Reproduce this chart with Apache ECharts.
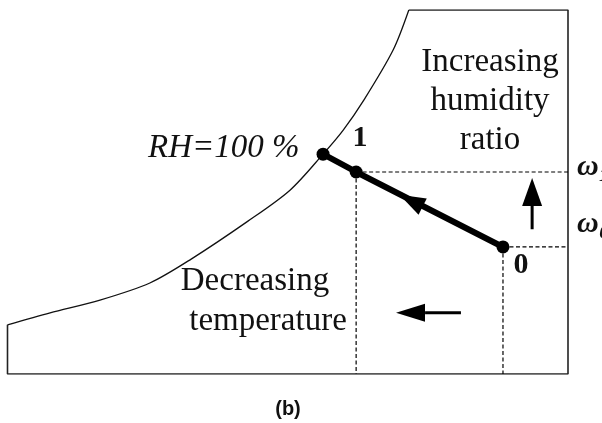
<!DOCTYPE html>
<html>
<head>
<meta charset="utf-8">
<script src="https://cdn.jsdelivr.net/npm/echarts@6/dist/echarts.min.js"></script>
<style>
  html, body { margin: 0; padding: 0; background: #fff; }
  #chart { width: 602px; height: 423px; }
</style>
</head>
<body>
<div id="chart"></div>
<script>
// saturation curve (RH = 100 %), schematic units: temperature 0..100, humidity ratio 0..100
let satT = [0, 7.6, 16.5, 25.4, 32.7, 42.9, 50.4, 56.3, 59.9, 63.6, 68.8, 71.6];
let satW = [13.5, 16.8, 20.3, 25.0, 31.5, 42.0, 50.5, 60.4, 67.0, 75.3, 89.0, 100];

// chart frame
let frameT = [71.6, 100, 100, 0, 0];
let frameW = [100, 100, 0, 0, 13.5];

// process states: saturation point, state 1, state 0
let stateNames = ['RH=100 %', '1', '0'];
let stateT = [56.3, 62.2, 88.4];
let stateW = [60.4, 55.5, 34.9];

// arrows
let upArrowT = 93.6, upArrowW = [39.8, 46.2, 50.0];
let leftArrowW = 16.8, leftArrowT = [80.9, 74.5, 71.9];
let midArrow = [72.0, 47.6];

let chart = echarts.init(document.getElementById('chart'));

let pairs = (xs, ys) => xs.map((x, i) => [x, ys[i]]);

let dashed = function(a, b) {
  return {
    type: 'line',
    data: [a, b],
    symbol: 'none',
    silent: true,
    lineStyle: {color: '#000', width: 1.2, type: [4, 2.5]}
  };
};

let serif = 'Liberation Serif, Times New Roman, serif';
let text = function(str, x, y, opts) {
  return {
    type: 'text',
    x: x,
    y: y,
    style: Object.assign({
      text: str,
      fill: '#111',
      font: '33px ' + serif,
      textAlign: 'center',
      textVerticalAlign: 'bottom'
    }, opts || {})
  };
};

chart.setOption({
  animation: false,
  grid: {left: 7.5, right: 34, top: 10, bottom: 49},
  xAxis: {type: 'value', min: 0, max: 100, show: false},
  yAxis: {type: 'value', min: 0, max: 100, show: false},
  series: [
    {
      type: 'line',
      data: pairs(satT, satW),
      smooth: 0.3,
      symbol: 'none',
      lineStyle: {color: '#111', width: 1.3}
    },
    {
      type: 'line',
      data: pairs(frameT, frameW),
      symbol: 'none',
      lineStyle: {color: '#222', width: 1.6}
    },
    dashed([stateT[1], stateW[1]], [100, stateW[1]]),
    dashed([stateT[1], stateW[1]], [stateT[1], 0]),
    dashed([stateT[2], stateW[2]], [100, stateW[2]]),
    dashed([stateT[2], stateW[2]], [stateT[2], 0]),
    {
      type: 'line',
      data: pairs(stateT, stateW),
      symbol: 'circle',
      symbolSize: 13,
      itemStyle: {color: '#000'},
      lineStyle: {color: '#000', width: 6}
    },
    // arrow shafts
    {
      type: 'line',
      data: [[upArrowT, upArrowW[0]], [upArrowT, upArrowW[1]]],
      symbol: 'none',
      lineStyle: {color: '#000', width: 3}
    },
    {
      type: 'line',
      data: [[leftArrowT[0], leftArrowW], [leftArrowT[1], leftArrowW]],
      symbol: 'none',
      lineStyle: {color: '#000', width: 3}
    },
    // arrow heads
    {
      type: 'scatter',
      symbol: 'triangle',
      itemStyle: {color: '#000', opacity: 1},
      data: [
        {value: [upArrowT, upArrowW[2]], symbolSize: [20, 28], symbolRotate: 0},
        {value: [leftArrowT[2], leftArrowW], symbolSize: [18, 29], symbolRotate: 90},
        {value: midArrow, symbolSize: [18, 26], symbolRotate: 63}
      ]
    }
  ],
  graphic: [
    text('Increasing', 490, 79),
    text('humidity', 490, 118),
    text('ratio', 490, 157),
    text('Decreasing', 255, 298),
    text('temperature', 268, 338),
    text(stateNames[0], 148, 165, {font: 'italic 33px ' + serif, textAlign: 'left'}),
    text(stateNames[1], 360, 153, {font: 'bold 30px ' + serif}),
    text(stateNames[2], 521, 280, {font: 'bold 30px ' + serif}),
    text('ω₁', 577, 182, {font: 'italic bold 30px ' + serif, textAlign: 'left'}),
    text('ω₀', 577, 239, {font: 'italic bold 30px ' + serif, textAlign: 'left'}),
    text('(b)', 288, 419, {font: 'bold 20px Liberation Sans, Arial, sans-serif'})
  ]
});
</script>
</body>
</html>
